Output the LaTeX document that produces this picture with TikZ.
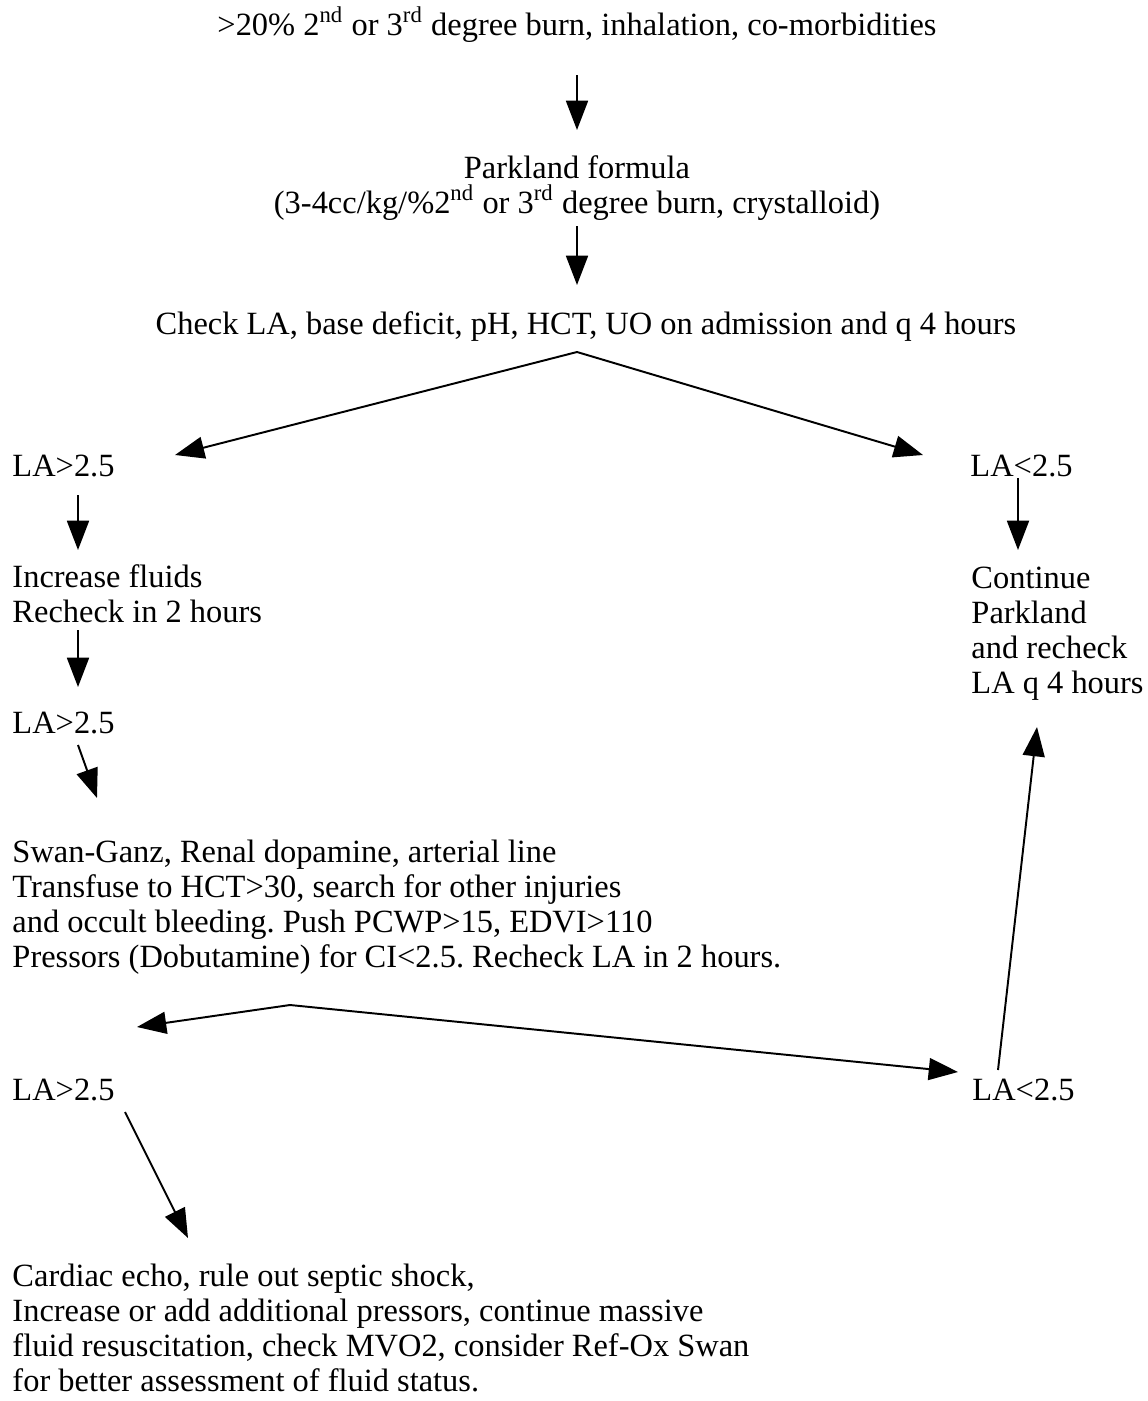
\documentclass[tikz,border=0pt]{standalone}
\usepackage{fontspec}
\setmainfont{Liberation Serif}
\usetikzlibrary{arrows.meta}
\frenchspacing
\begin{document}
\begin{tikzpicture}[x=0.41pt,y=-0.41pt,
  txt/.style={inner sep=0pt, font=\fontsize{13.3}{14.35}\selectfont, align=left, anchor=base west},
  ctr/.style={inner sep=0pt, font=\fontsize{13.3}{14.35}\selectfont, align=center, anchor=base},
  arr/.style={line width=0.8pt, -{Triangle[length=12pt,width=9pt]}}]
\useasboundingbox (0,0) rectangle (1147,1401);
% texts (multi-line nodes are placed by the baseline of their last line)
\node[ctr] (title) at (577,35) {>20\% 2\textsuperscript{nd} or 3\textsuperscript{rd} degree burn, inhalation, co-morbidities};
\node[ctr] (park) at (577,213) {Parkland formula\\(3-4cc/kg/\%2\textsuperscript{nd} or 3\textsuperscript{rd} degree burn, crystalloid)};
\node[ctr] (check) at (586,334) {Check LA, base deficit, pH, HCT, UO on admission and q 4 hours};
\node[txt] (hiA) at (12,476) {LA>2.5};
\node[txt] (loA) at (970,476) {LA<2.5};
\node[txt] (incr) at (12,622) {Increase fluids\\Recheck in 2 hours};
\node[txt] (cont) at (971,693) {Continue\\Parkland\\and recheck\\LA q 4 hours};
\node[txt] (hiB) at (12,733) {LA>2.5};
\node[txt] (swan) at (12,967) {Swan-Ganz, Renal dopamine, arterial line\\Transfuse to HCT>30, search for other injuries\\and occult bleeding. Push PCWP>15, EDVI>110\\Pressors (Dobutamine) for CI<2.5. Recheck LA in 2 hours.};
\node[txt] (hiC) at (12,1100) {LA>2.5};
\node[txt] (loC) at (972,1100) {LA<2.5};
\node[txt] (card) at (12,1391) {Cardiac echo, rule out septic shock,\\Increase or add additional pressors, continue massive\\fluid resuscitation, check MVO2, consider Ref-Ox Swan\\for better assessment of fluid status.};
% connector points
\coordinate (a1s) at (577,75);   \coordinate (a1e) at (577,130);
\coordinate (a2s) at (577,226);  \coordinate (a2e) at (577,285);
\coordinate (apx) at (577,352);
\coordinate (tl1) at (175,455);  \coordinate (tr1) at (923,455);
\coordinate (l1s) at (78,495);   \coordinate (l1e) at (78,550);
\coordinate (r1s) at (1018,478); \coordinate (r1e) at (1018,550);
\coordinate (l2s) at (78,630);   \coordinate (l2e) at (78,687);
\coordinate (l3s) at (78,745);   \coordinate (l3e) at (97,798);
\coordinate (apx2) at (290,1005);
\coordinate (tl2) at (137,1027); \coordinate (tr2) at (958,1072);
\coordinate (ups) at (998,1070); \coordinate (upe) at (1037,727);
\coordinate (dgs) at (125,1112); \coordinate (dge) at (188,1238);
% connectors
\draw[arr] (a1s) -- (a1e);
\draw[arr] (a2s) -- (a2e);
\draw[arr] (apx) -- (tl1);
\draw[arr] (apx) -- (tr1);
\draw[arr] (l1s) -- (l1e);
\draw[arr] (r1s) -- (r1e);
\draw[arr] (l2s) -- (l2e);
\draw[arr] (l3s) -- (l3e);
\draw[arr] (apx2) -- (tl2);
\draw[arr] (apx2) -- (tr2);
\draw[arr] (ups) -- (upe);
\draw[arr] (dgs) -- (dge);
\end{tikzpicture}
\end{document}
